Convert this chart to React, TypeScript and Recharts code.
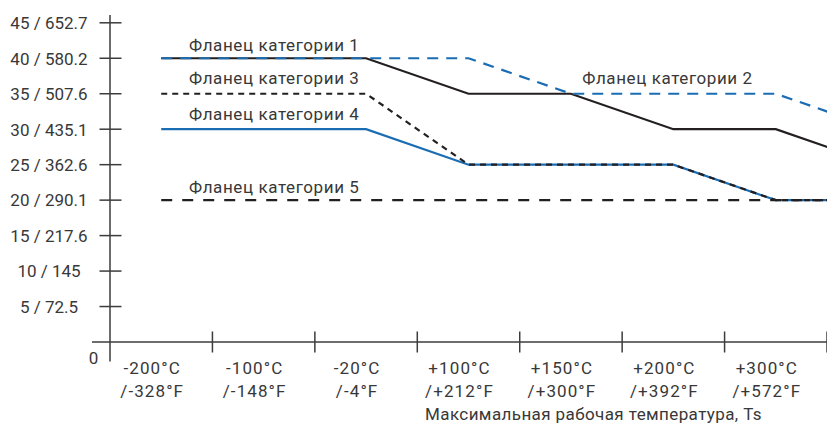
import React from 'react';
import { LineChart, Line, XAxis, YAxis, ReferenceDot } from 'recharts';

// Category labels (x axis, two lines each)
const tempC = ['-200°C', '-100°C', '-20°C', '+100°C', '+150°C', '+200°C', '+300°C'];
const tempF = ['/-328°F', '/-148°F', '/-4°F', '/+212°F', '/+300°F', '/+392°F', '/+572°F'];

// Y tick values and labels (bar / psi)
const yTickValues = [0, 5, 10, 15, 20, 25, 30, 35, 40, 45];
const yTickLabels = ['0', '5 / 72.5', '10 / 145', '15 / 217.6', '20 / 290.1', '25 / 362.6', '30 / 435.1', '35 / 507.6', '40 / 580.2', '45 / 652.7'];

// Series values per category (last value: next point beyond the visible right edge)
const flange1 = [40, 40, 40, 35, 35, 30, 30, 25];
const flange2 = [40, 40, 40, 40, 35, 35, 35, 30];
const flange3 = [35, 35, 35, 25, 25, 25, 20, 20];
const flange4 = [30, 30, 30, 25, 25, 25, 20, 20];
const flange5 = [20, 20, 20, 20, 20, 20, 20, 20];

const seriesNames = ['Фланец категории 1', 'Фланец категории 2', 'Фланец категории 3', 'Фланец категории 4', 'Фланец категории 5'];
const axisTitle = 'Максимальная рабочая температура, Ts';

const data = flange1.map((_, i) => ({
  x: i + 0.5,
  f1: flange1[i],
  f2: flange2[i],
  f3: flange3[i],
  f4: flange4[i],
  f5: flange5[i],
}));

const boundaryTicks = tempC.map((_, i) => i + 1);
const centerTicks = tempC.map((_, i) => i + 0.5);
const xTicks = [...centerTicks, ...boundaryTicks].sort((a, b) => a - b);

const FONT = 'Roboto, "Noto Sans", sans-serif';
const TEXT = '#383838';
const AXIS = '#3c3c3c';
const BLACK = '#231f20';
const BLUE = '#1b6db3';
const FS = 17;

const XTick = (props: any) => {
  const { x, y, payload } = props;
  const v = payload.value as number;
  if (Number.isInteger(v)) {
    return <line x1={x} x2={x} y1={y - 10.5} y2={y + 10.5} stroke={AXIS} strokeWidth={1.5} />;
  }
  const i = Math.floor(v);
  return (
    <g>
      <text x={x - 9} y={y + 31.5} textAnchor="middle" fill={TEXT} fontSize={FS} fontFamily={FONT} letterSpacing={1.1}>{tempC[i]}</text>
      <text x={x - 9} y={y + 55} textAnchor="middle" fill={TEXT} fontSize={FS} fontFamily={FONT} letterSpacing={1.1}>{tempF[i]}</text>
    </g>
  );
};

const YTick = (props: any) => {
  const { x, y, payload } = props;
  const v = payload.value as number;
  const label = yTickLabels[yTickValues.indexOf(v)];
  if (v === 0) {
    return (
      <g>
        <line x1={x} x2={x} y1={y} y2={y + 19.5} stroke={AXIS} strokeWidth={1.5} />
        <line x1={x - 18} x2={x} y1={y} y2={y} stroke={AXIS} strokeWidth={1.5} />
        <text x={x - 16.5} y={y + 21.6} textAnchor="middle" fill={TEXT} fontSize={FS} fontFamily={FONT}>{label}</text>
      </g>
    );
  }
  return (
    <g>
      <line x1={x - 10.5} x2={x + 11.5} y1={y} y2={y} stroke={AXIS} strokeWidth={1.5} />
      <text x={x - 61} y={y + 6.3} textAnchor="middle" fill={TEXT} fontSize={FS} fontFamily={FONT}>{label}</text>
    </g>
  );
};

const LineLabel = (props: any) => {
  const vb = props.viewBox || {};
  return (
    <text x={vb.x} y={(vb.y ?? 0) + props.dy} fill={TEXT} fontSize={FS} fontFamily={FONT} letterSpacing={0.6} textAnchor="start">
      {props.text}
    </text>
  );
};

const AxisTitle = (props: any) => {
  const vb = props.viewBox || {};
  return (
    <text x={(vb.x ?? 0) + 483.5} y={(vb.y ?? 0) + 78.3} fill={TEXT} fontSize={FS} fontFamily={FONT} letterSpacing={0.4} textAnchor="middle">
      {axisTitle}
    </text>
  );
};

export default function App() {
  return (
    <LineChart width={827} height={415} data={data} margin={{ top: 7, right: 0, bottom: 0, left: 0 }}>
      <XAxis
        dataKey="x"
        type="number"
        domain={[0, 7.078]}
        allowDataOverflow
        ticks={xTicks}
        interval={0}
        tick={<XTick />}
        tickLine={false}
        tickSize={0}
        tickMargin={0}
        height={81}
        axisLine={{ stroke: AXIS, strokeWidth: 1.5 }}
        label={<AxisTitle />}
      />
      <YAxis
        type="number"
        domain={[0, 46.1]}
        allowDataOverflow
        ticks={yTickValues}
        interval={0}
        tick={<YTick />}
        tickLine={false}
        tickSize={0}
        tickMargin={0}
        width={102}
        axisLine={{ stroke: AXIS, strokeWidth: 1.5 }}
      />
      <Line dataKey="f1" stroke={BLACK} strokeWidth={2.2} dot={false} activeDot={false} isAnimationActive={false} />
      <Line dataKey="f2" stroke={BLUE} strokeWidth={2.2} strokeDasharray="11 8" dot={false} activeDot={false} isAnimationActive={false} />
      <Line dataKey="f4" stroke={BLUE} strokeWidth={2.2} dot={false} activeDot={false} isAnimationActive={false} />
      <Line dataKey="f3" stroke={BLACK} strokeWidth={2.2} strokeDasharray="6 5" dot={false} activeDot={false} isAnimationActive={false} />
      <Line dataKey="f5" stroke={BLACK} strokeWidth={2.2} strokeDasharray="11 10" dot={false} activeDot={false} isAnimationActive={false} />
      <ReferenceDot x={0.771} y={40} r={0} fill="none" stroke="none" ifOverflow="visible" label={<LineLabel text={seriesNames[0]} dy={-7} />} />
      <ReferenceDot x={4.61} y={35} r={0} fill="none" stroke="none" ifOverflow="visible" label={<LineLabel text={seriesNames[1]} dy={-10} />} />
      <ReferenceDot x={0.771} y={35} r={0} fill="none" stroke="none" ifOverflow="visible" label={<LineLabel text={seriesNames[2]} dy={-10} />} />
      <ReferenceDot x={0.771} y={30} r={0} fill="none" stroke="none" ifOverflow="visible" label={<LineLabel text={seriesNames[3]} dy={-9} />} />
      <ReferenceDot x={0.771} y={20} r={0} fill="none" stroke="none" ifOverflow="visible" label={<LineLabel text={seriesNames[4]} dy={-7} />} />
    </LineChart>
  );
}
